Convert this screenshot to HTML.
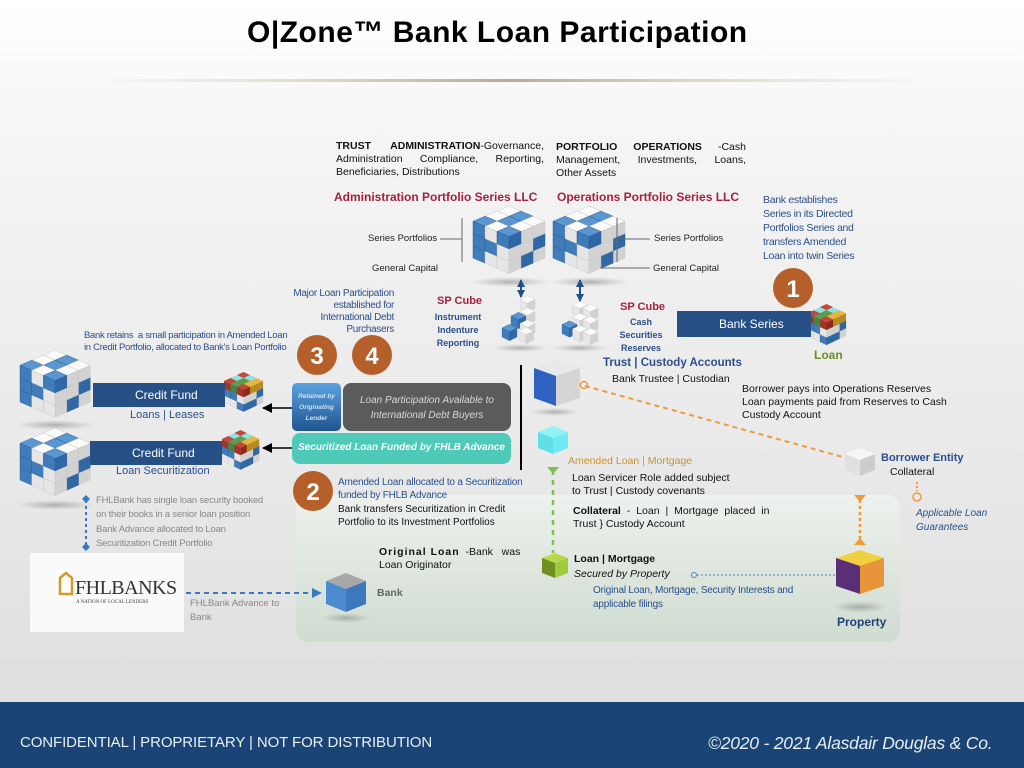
<!DOCTYPE html>
<html><head><meta charset="utf-8"><style>
*{margin:0;padding:0;box-sizing:border-box}
body{width:1024px;height:768px;overflow:hidden;position:relative;font-family:"Liberation Sans",sans-serif;background:linear-gradient(#ffffff 0%,#f4f4f4 20%,#e9e9e9 60%,#dcdcdc 100%)}
.t{position:absolute;white-space:nowrap}
.b{color:#2b4f8c}
.j{text-align:justify;text-align-last:left;white-space:normal}
</style></head><body>
<svg width="1024" height="768" style="position:absolute;left:0;top:0">
<defs>
<linearGradient id="ln" x1="0" x2="1"><stop offset="0" stop-color="#d8d0c4" stop-opacity="0"/><stop offset=".5" stop-color="#b8aa98"/><stop offset="1" stop-color="#d8d0c4" stop-opacity="0"/></linearGradient>
<linearGradient id="gp" x1="0" y1="0" x2="0" y2="1"><stop offset="0" stop-color="#eef1ee"/><stop offset="1" stop-color="#cfdcd0"/></linearGradient>
<linearGradient id="rb" x1="0" y1="0" x2="0" y2="1"><stop offset="0" stop-color="#5ba2e0"/><stop offset="1" stop-color="#1f5590"/></linearGradient>
<radialGradient id="sh"><stop offset="0" stop-color="#888" stop-opacity=".6"/><stop offset="1" stop-color="#999" stop-opacity="0"/></radialGradient>
<g id="w" stroke="#c4c4c4" stroke-width=".4"><path d="M0,0 L10,-5 L20,0 L10,5Z" fill="#fbfbfb"/><path d="M0,0 L10,5 L10,17 L0,12Z" fill="#e6e6e6"/><path d="M10,5 L20,0 L20,12 L10,17Z" fill="#d2d2d2"/></g>
<g id="bl" stroke="#2a5a90" stroke-width=".4"><path d="M0,0 L10,-5 L20,0 L10,5Z" fill="#5a96d0"/><path d="M0,0 L10,5 L10,17 L0,12Z" fill="#3f7cb9"/><path d="M10,5 L20,0 L20,12 L10,17Z" fill="#2f68a4"/></g>
<g id="r"><path d="M0,0 L10,-5 L20,0 L10,5Z" fill="#c2463a"/><path d="M0,0 L10,5 L10,17 L0,12Z" fill="#a33428"/><path d="M10,5 L20,0 L20,12 L10,17Z" fill="#8c2a20"/></g>
<g id="g"><path d="M0,0 L10,-5 L20,0 L10,5Z" fill="#5e9c52"/><path d="M0,0 L10,5 L10,17 L0,12Z" fill="#4a8440"/><path d="M10,5 L20,0 L20,12 L10,17Z" fill="#3c7034"/></g>
<g id="y"><path d="M0,0 L10,-5 L20,0 L10,5Z" fill="#e6b640"/><path d="M0,0 L10,5 L10,17 L0,12Z" fill="#d19e2c"/><path d="M10,5 L20,0 L20,12 L10,17Z" fill="#b98a22"/></g>
<g id="c"><path d="M0,0 L10,-5 L20,0 L10,5Z" fill="#8ee2e2"/><path d="M0,0 L10,5 L10,17 L0,12Z" fill="#62c8c8"/><path d="M10,5 L20,0 L20,12 L10,17Z" fill="#4fb2b2"/></g>
<g id="big"><g transform="translate(20,29)">
<use href="#w" x="20" y="10"/><use href="#bl" x="10" y="15"/><use href="#bl" x="-20" y="10"/><use href="#w" x="-10" y="15"/><use href="#w" x="0" y="20"/>
<use href="#bl" x="20" y="-2"/><use href="#w" x="10" y="3"/><use href="#bl" x="-20" y="-2"/><use href="#bl" x="-10" y="3"/><use href="#w" x="0" y="8"/>
<use href="#w" x="0" y="-24"/><use href="#bl" x="10" y="-19"/><use href="#w" x="-10" y="-19"/><use href="#w" x="20" y="-14"/><use href="#bl" x="0" y="-14"/><use href="#bl" x="-20" y="-14"/><use href="#w" x="10" y="-9"/><use href="#w" x="-10" y="-9"/><use href="#bl" x="0" y="-4"/>
</g></g>
<g id="col"><g transform="translate(20,29)">
<use href="#w" x="20" y="10"/><use href="#bl" x="10" y="15"/><use href="#w" x="-20" y="10"/><use href="#w" x="-10" y="15"/><use href="#bl" x="0" y="20"/>
<use href="#bl" x="20" y="-2"/><use href="#w" x="10" y="3"/><use href="#bl" x="-20" y="-2"/><use href="#bl" x="-10" y="3"/><use href="#w" x="0" y="8"/>
<use href="#r" x="0" y="-24"/><use href="#c" x="10" y="-19"/><use href="#c" x="-10" y="-19"/><use href="#y" x="20" y="-14"/><use href="#g" x="0" y="-14"/><use href="#r" x="-20" y="-14"/><use href="#y" x="10" y="-9"/><use href="#g" x="-10" y="-9"/><use href="#r" x="0" y="-4"/>
</g></g>
<marker id="ab" markerUnits="userSpaceOnUse" markerWidth="10" markerHeight="10" refX="9" refY="5" orient="auto"><path d="M0,0 L10,5 L0,10Z" fill="#000"/></marker>
<marker id="au" markerUnits="userSpaceOnUse" markerWidth="8" markerHeight="8" refX="7" refY="4" orient="auto-start-reverse"><path d="M0,0 L8,4 L0,8Z" fill="#23508a"/></marker>
<marker id="ad" markerUnits="userSpaceOnUse" markerWidth="10" markerHeight="10" refX="8" refY="5" orient="auto"><path d="M0,0 L10,5 L0,10Z" fill="#3a78c4"/></marker>
</defs>
<rect x="80" y="79" width="860" height="3" fill="url(#ln)"/>
<rect x="296" y="495" width="604" height="147" rx="12" fill="url(#gp)"/>
<rect x="30" y="553" width="154" height="79" fill="#fafafa"/>
<rect x="0" y="702" width="1024" height="66" fill="#1b4476"/>

<ellipse cx="510" cy="282" rx="40" ry="5" fill="url(#sh)"/><ellipse cx="590" cy="282" rx="40" ry="5" fill="url(#sh)"/>
<ellipse cx="55" cy="425" rx="40" ry="5" fill="url(#sh)"/><ellipse cx="55" cy="505" rx="40" ry="5" fill="url(#sh)"/>
<ellipse cx="520" cy="348" rx="28" ry="4" fill="url(#sh)"/><ellipse cx="580" cy="348" rx="28" ry="4" fill="url(#sh)"/>
<ellipse cx="555" cy="412" rx="25" ry="4" fill="url(#sh)"/><ellipse cx="860" cy="607" rx="28" ry="6" fill="url(#sh)"/>
<ellipse cx="346" cy="618" rx="25" ry="5" fill="url(#sh)"/>

<g transform="translate(473,206) scale(1.2,1.02)"><use href="#big"/></g>
<g transform="translate(553,206) scale(1.2,1.02)"><use href="#big"/></g>
<g transform="translate(20,350) scale(1.17,1.02)"><use href="#big"/></g>
<g transform="translate(20,428) scale(1.17,1.02)"><use href="#big"/></g>
<g transform="translate(224,372) scale(.65,.6)"><use href="#col"/></g>
<g transform="translate(222,430) scale(.62,.6)"><use href="#col"/></g>
<g transform="translate(807,304) scale(.65,.62)"><use href="#col"/></g>

<g stroke="#666" stroke-width="1" fill="none">
<path d="M440,239 H462 M462,218 V262"/><path d="M617,218 V262 M620,239 H650"/><path d="M600,268 H650"/>
</g>
<g transform="translate(505,298) scale(.75)">
<use href="#w" x="20" y="2"/><use href="#w" x="20" y="18"/><use href="#bl" x="8" y="24"/><use href="#w" x="20" y="34"/><use href="#bl" x="-4" y="40"/><use href="#w" x="18" y="44"/>
</g>
<g transform="translate(562,305) scale(.75)">
<use href="#w" x="14" y="0"/><use href="#w" x="28" y="4"/><use href="#w" x="14" y="16"/><use href="#w" x="28" y="20"/><use href="#bl" x="0" y="26"/><use href="#w" x="14" y="32"/><use href="#w" x="28" y="36"/>
</g>
<line x1="521" y1="280" x2="521" y2="297" stroke="#23508a" stroke-width="2" marker-start="url(#au)" marker-end="url(#au)"/>
<line x1="580" y1="280" x2="580" y2="301" stroke="#23508a" stroke-width="2" marker-start="url(#au)" marker-end="url(#au)"/>

<rect x="93" y="383" width="132" height="24" fill="#254f85"/>
<rect x="90" y="441" width="132" height="24" fill="#254f85"/>
<rect x="677" y="311" width="134" height="26" fill="#254f85"/>

<g fill="#b5602a"><circle cx="793" cy="288" r="20"/><circle cx="317" cy="355" r="20"/><circle cx="372" cy="355" r="20"/><circle cx="313" cy="491" r="20"/></g>
<g fill="#fff" font-family="Liberation Sans" font-weight="bold" font-size="24" text-anchor="middle">
<text x="793" y="297">1</text><text x="317" y="364">3</text><text x="372" y="364">4</text><text x="313" y="500">2</text></g>

<rect x="292" y="383" width="49" height="48" rx="5" fill="url(#rb)"/>
<rect x="343" y="383" width="168" height="48" rx="8" fill="#5b5b5b"/>
<rect x="292" y="433" width="219" height="31" rx="8" fill="#4fcab9"/>
<line x1="292" y1="408" x2="263" y2="408" stroke="#000" stroke-width="1.5" marker-end="url(#ab)"/>
<line x1="292" y1="448" x2="263" y2="448" stroke="#000" stroke-width="1.5" marker-end="url(#ab)"/>
<line x1="521" y1="365" x2="521" y2="470" stroke="#000" stroke-width="2"/>

<path d="M534,368 L556,360 L580,368 L580,398 L556,406 L534,398Z" fill="#e8e8e8"/>
<path d="M534,368 L556,376 L556,406 L534,398Z" fill="#2f62c0"/>
<path d="M556,376 L580,368 L580,398 L556,406Z" fill="#d4d4d4"/>
<path d="M538,432 L553,426 L568,432 L553,438Z" fill="#8ff4f6"/><path d="M538,432 L553,438 L553,454 L538,448Z" fill="#5ee0e6"/><path d="M553,438 L568,432 L568,448 L553,454Z" fill="#6eeaf0"/>
<path d="M845,454 L860,448 L875,454 L860,460Z" fill="#f6f6f6"/><path d="M845,454 L860,460 L860,476 L845,470Z" fill="#e0e0e0"/><path d="M860,460 L875,454 L875,470 L860,476Z" fill="#cccccc"/>
<path d="M542,558 L555,553 L568,558 L555,563Z" fill="#b6d84a"/><path d="M542,558 L555,563 L555,578 L542,573Z" fill="#6f8f20"/><path d="M555,563 L568,558 L568,573 L555,578Z" fill="#9ccc38"/>
<path d="M836,558 L860,550 L884,558 L860,566Z" fill="#f0d040"/><path d="M836,558 L860,566 L860,594 L836,586Z" fill="#5b2e78"/><path d="M860,566 L884,558 L884,586 L860,594Z" fill="#e8953a"/>
<path d="M326,581 L346,573 L366,581 L346,589Z" fill="#a8a8a8"/><path d="M326,581 L346,589 L346,612 L326,604Z" fill="#4d8bd0"/><path d="M346,589 L366,581 L366,604 L346,612Z" fill="#3d78bd"/>

<line x1="585" y1="386" x2="843" y2="457" stroke="#ef9a3e" stroke-width="2" stroke-dasharray="5,4"/>
<circle cx="584" cy="385" r="3.5" fill="none" stroke="#ef9a3e" stroke-width="1.5"/>
<line x1="553" y1="470" x2="553" y2="553" stroke="#7fc24a" stroke-width="2.5" stroke-dasharray="5,5"/>
<path d="M547,467 L559,467 L553,474Z" fill="#7fc24a"/>
<line x1="860" y1="500" x2="860" y2="543" stroke="#ef9a3e" stroke-width="2.5" stroke-dasharray="3,3"/>
<path d="M854,495 L866,495 L860,502Z M854,545 L866,545 L860,538Z" fill="#ef9a3e"/>
<line x1="917" y1="482" x2="917" y2="491" stroke="#ef9a3e" stroke-width="2" stroke-dasharray="2,2"/>
<circle cx="917" cy="497" r="4" fill="none" stroke="#ef9a3e" stroke-width="1.5"/>
<line x1="697" y1="575" x2="835" y2="575" stroke="#5a7fb8" stroke-width="1" stroke-dasharray="2,2"/>
<circle cx="694" cy="575" r="2.5" fill="none" stroke="#5a7fb8"/>
<line x1="186" y1="593" x2="320" y2="593" stroke="#3a78c4" stroke-width="2" stroke-dasharray="5,4" marker-end="url(#ad)"/>
<line x1="86" y1="500" x2="86" y2="545" stroke="#3a78c4" stroke-width="2" stroke-dasharray="3,3"/>
<path d="M86,495 L90,499 L86,503 L82,499Z M86,543 L90,547 L86,551 L82,547Z" fill="#3a78c4"/>

<path d="M60,578 L66,573 L72,578 L72,594 L60,594Z" fill="none" stroke="#d49a2a" stroke-width="2.5"/>
<text x="75" y="594" font-family="Liberation Serif" font-size="20" fill="#333" letter-spacing="-.5">FHLBANKS</text>
<text x="76" y="603" font-family="Liberation Serif" font-size="5" fill="#444">A NATION OF LOCAL LENDERS</text>
</svg>

<div class="t" style="left:247px;top:16px;font-size:30px;font-weight:bold;color:#000;letter-spacing:.5px">O|Zone™ Bank Loan Participation</div>

<div class="t j" style="left:336px;top:140px;width:208px;font-size:10.5px;line-height:13px;color:#111"><b>TRUST ADMINISTRATION</b>-Governance, Administration Compliance, Reporting, Beneficiaries, Distributions</div>
<div class="t j" style="left:556px;top:141px;width:190px;font-size:10.5px;line-height:13px;color:#111"><b>PORTFOLIO OPERATIONS</b> -Cash Management, Investments, Loans, Other Assets</div>
<div class="t" style="left:334px;top:190px;font-size:12px;font-weight:bold;color:#a3223f">Administration Portfolio Series LLC</div>
<div class="t" style="left:557px;top:190px;font-size:12px;font-weight:bold;color:#a3223f">Operations Portfolio Series LLC</div>
<div class="t" style="left:368px;top:233px;font-size:9.5px;color:#222">Series Portfolios</div>
<div class="t" style="left:654px;top:233px;font-size:9.5px;color:#222">Series Portfolios</div>
<div class="t" style="left:372px;top:263px;font-size:9.5px;color:#222">General Capital</div>
<div class="t" style="left:653px;top:263px;font-size:9.5px;color:#222">General Capital</div>
<div class="t b" style="left:763px;top:193px;font-size:10.5px;line-height:14px;letter-spacing:-.3px">Bank establishes<br>Series in its Directed<br>Portfolios Series and<br>transfers Amended<br>Loan into twin Series</div>
<div class="t b" style="left:280px;top:288px;width:114px;text-align:right;font-size:10px;line-height:12px;letter-spacing:-.3px">Major Loan Participation<br>established for<br>International Debt<br>Purchasers</div>
<div class="t" style="left:437px;top:295px;font-size:11px;font-weight:bold;color:#a3223f">SP Cube</div>
<div class="t b" style="left:431px;top:311px;width:54px;text-align:center;font-size:9px;line-height:13px;font-weight:bold">Instrument<br>Indenture<br>Reporting</div>
<div class="t" style="left:620px;top:301px;font-size:11px;font-weight:bold;color:#a3223f">SP Cube</div>
<div class="t b" style="left:614px;top:316px;width:54px;text-align:center;font-size:9px;line-height:13px;font-weight:bold">Cash<br>Securities<br>Reserves</div>
<div class="t" style="left:719px;top:317px;font-size:12px;color:#fff">Bank Series</div>
<div class="t" style="left:814px;top:348px;font-size:12px;font-weight:bold;color:#6b8e23">Loan</div>
<div class="t b" style="left:84px;top:330px;font-size:9.5px;line-height:12px;letter-spacing:-.3px">Bank retains &nbsp;a small participation in Amended Loan<br>in Credit Portfolio, allocated to Bank's Loan Portfolio</div>
<div class="t" style="left:135px;top:388px;font-size:12px;color:#fff">Credit Fund</div>
<div class="t b" style="left:130px;top:409px;font-size:11px">Loans | Leases</div>
<div class="t" style="left:132px;top:446px;font-size:12px;color:#fff">Credit Fund</div>
<div class="t b" style="left:116px;top:465px;font-size:11px">Loan Securitization</div>
<div class="t" style="left:96px;top:494px;font-size:9.5px;line-height:14px;color:#888;letter-spacing:-.2px">FHLBank has single loan security booked<br>on their books in a senior loan position</div>
<div class="t" style="left:96px;top:523px;font-size:9.5px;line-height:14px;color:#888;letter-spacing:-.2px">Bank Advance allocated to Loan<br>Securitization Credit Portfolio</div>
<div class="t" style="left:190px;top:597px;font-size:9.5px;line-height:14px;color:#888">FHLBank Advance to<br>Bank</div>
<div class="t" style="left:292px;top:391px;width:49px;text-align:center;font-size:6.5px;line-height:11px;font-style:italic;font-weight:bold;color:#cfe0f5">Retained by<br>Originating<br>Lender</div>
<div class="t" style="left:343px;top:393px;width:168px;text-align:center;font-size:10px;line-height:15px;font-style:italic;color:#d8d8d8">Loan Participation Available to<br>International Debt Buyers</div>
<div class="t" style="left:292px;top:442px;width:219px;text-align:center;font-size:10px;font-style:italic;font-weight:bold;color:#fff">Securitized Loan Funded by FHLB Advance</div>
<div class="t b" style="left:338px;top:476px;font-size:10px;line-height:13px;letter-spacing:-.2px">Amended Loan allocated to a Securitization<br>funded by FHLB Advance</div>
<div class="t" style="left:338px;top:503px;font-size:10px;line-height:13px;color:#111">Bank transfers Securitization in Credit<br>Portfolio to its Investment Portfolios</div>
<div class="t" style="left:379px;top:546px;font-size:10.5px;line-height:13px;color:#111"><b style="letter-spacing:1px">Original Loan</b> &nbsp;-Bank &nbsp;&nbsp;was<br>Loan Originator</div>
<div class="t" style="left:377px;top:587px;font-size:10.5px;font-weight:bold;color:#666">Bank</div>
<div class="t b" style="left:603px;top:357px;font-size:11.5px;font-weight:bold">Trust | Custody Accounts</div>
<div class="t" style="left:612px;top:373px;font-size:10.5px;color:#111">Bank Trustee | Custodian</div>
<div class="t" style="left:742px;top:383px;font-size:10.5px;line-height:13px;color:#111">Borrower pays into Operations Reserves<br>Loan payments paid from Reserves to Cash<br>Custody Account</div>
<div class="t" style="left:568px;top:455px;font-size:10.5px;color:#c8942a">Amended Loan | Mortgage</div>
<div class="t" style="left:572px;top:472px;font-size:10.5px;line-height:13px;color:#111">Loan Servicer Role added subject<br>to Trust | Custody covenants</div>
<div class="t" style="left:573px;top:505px;font-size:10.5px;line-height:13px;color:#111;word-spacing:3px"><b style="word-spacing:0">Collateral</b> - Loan | Mortgage placed in<br><span style="word-spacing:0">Trust } Custody Account</span></div>
<div class="t" style="left:574px;top:553px;font-size:10.5px;font-weight:bold;color:#111">Loan | Mortgage</div>
<div class="t" style="left:574px;top:568px;font-size:10.5px;font-style:italic;color:#111">Secured by Property</div>
<div class="t b" style="left:593px;top:584px;font-size:10px;line-height:14px;letter-spacing:-.2px">Original Loan, Mortgage, Security Interests and<br>applicable filings</div>
<div class="t b" style="left:881px;top:452px;font-size:11px;font-weight:bold">Borrower Entity</div>
<div class="t" style="left:890px;top:466px;font-size:10.5px;color:#111">Collateral</div>
<div class="t b" style="left:916px;top:507px;font-size:10px;line-height:14px;font-style:italic">Applicable Loan<br>Guarantees</div>
<div class="t" style="left:837px;top:615px;font-size:12px;font-weight:bold;color:#1f3f78">Property</div>

<div class="t" style="left:20px;top:734px;font-size:15px;color:#e8eef5;letter-spacing:-.1px">CONFIDENTIAL | PROPRIETARY | NOT FOR DISTRIBUTION</div>
<div class="t" style="left:708px;top:733px;font-size:17.5px;font-style:italic;color:#e8eef5;letter-spacing:-.2px">©2020 - 2021 Alasdair Douglas &amp; Co.</div>
</body></html>
